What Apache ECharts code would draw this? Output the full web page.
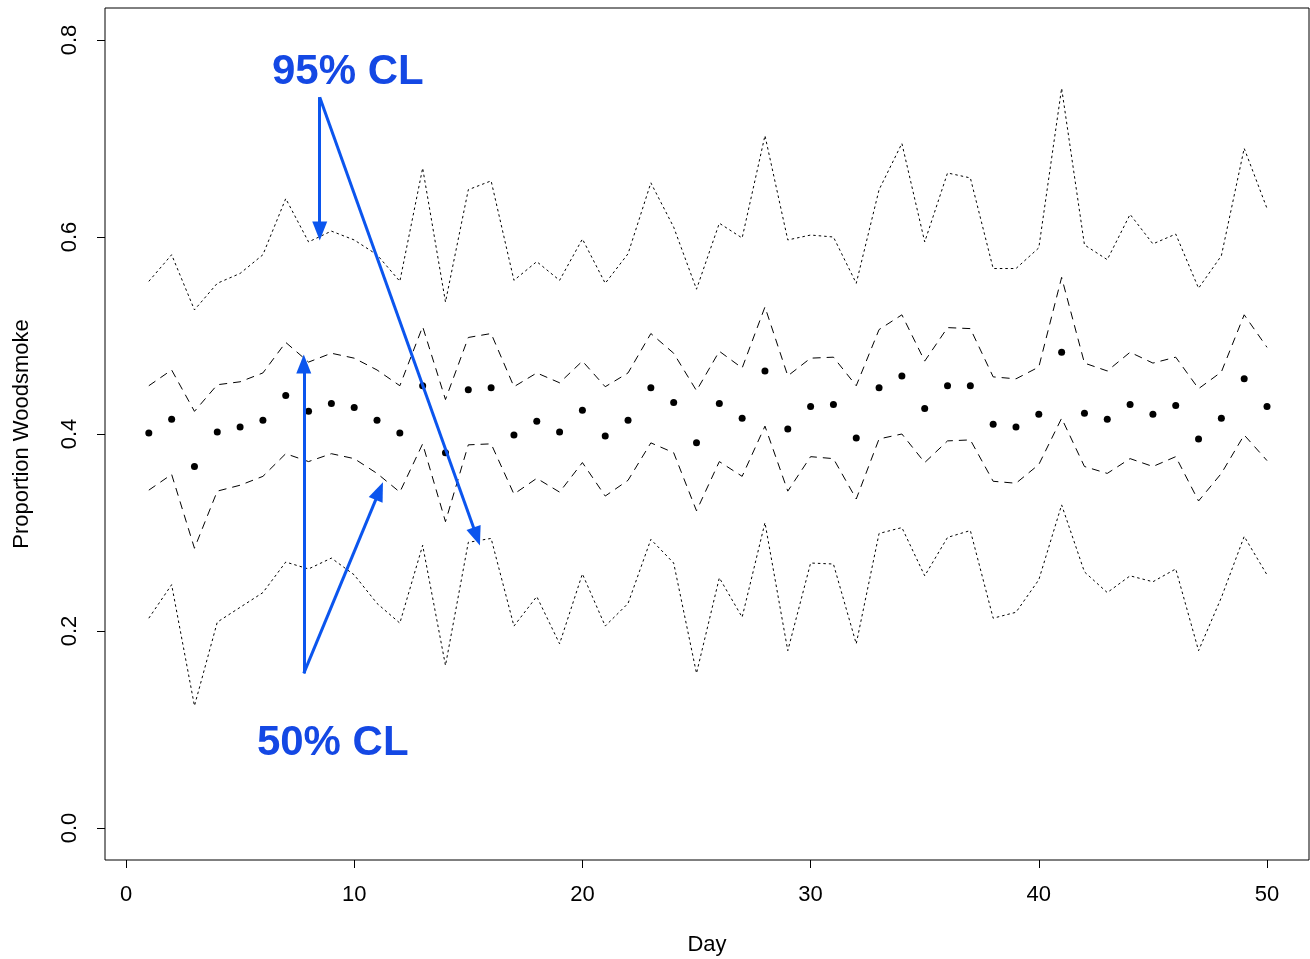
<!DOCTYPE html>
<html>
<head>
<meta charset="utf-8">
<script src="https://cdn.jsdelivr.net/npm/echarts@6/dist/echarts.min.js"></script>
<style>
html,body{margin:0;padding:0;background:#fff;}
#chart{width:1310px;height:959px;}
</style>
</head>
<body>
<div id="chart"></div>
<script>
// ---- Data ----
const days = Array.from({length: 50}, (_, i) => i + 1);
const median = [0.401,0.415,0.367,0.402,0.407,0.414,0.439,0.423,0.431,0.427,
                0.414,0.401,0.449,0.381,0.445,0.447,0.399,0.413,0.402,0.424,
                0.398,0.414,0.447,0.432,0.391,0.431,0.416,0.464,0.405,0.428,
                0.430,0.396,0.447,0.459,0.426,0.449,0.449,0.410,0.407,0.420,
                0.483,0.421,0.415,0.430,0.420,0.429,0.395,0.416,0.456,0.428];
const upper50 = [0.449,0.465,0.423,0.450,0.453,0.462,0.493,0.473,0.482,0.477,
                 0.465,0.449,0.509,0.435,0.498,0.502,0.448,0.462,0.452,0.474,
                 0.448,0.462,0.502,0.482,0.444,0.484,0.467,0.529,0.459,0.477,
                 0.478,0.449,0.506,0.521,0.474,0.508,0.507,0.458,0.456,0.468,
                 0.559,0.472,0.464,0.483,0.472,0.478,0.446,0.463,0.521,0.488];
const lower50 = [0.343,0.359,0.284,0.342,0.348,0.357,0.380,0.372,0.380,0.375,
                 0.360,0.341,0.390,0.311,0.389,0.390,0.339,0.355,0.341,0.371,
                 0.337,0.353,0.391,0.381,0.322,0.372,0.357,0.408,0.342,0.377,
                 0.375,0.334,0.395,0.400,0.371,0.393,0.394,0.352,0.350,0.369,
                 0.416,0.367,0.360,0.375,0.367,0.377,0.332,0.360,0.399,0.373];
const upper95 = [0.555,0.582,0.526,0.553,0.563,0.582,0.639,0.595,0.606,0.597,
                 0.582,0.555,0.670,0.534,0.648,0.657,0.556,0.575,0.556,0.598,
                 0.553,0.583,0.655,0.610,0.547,0.614,0.599,0.703,0.597,0.602,
                 0.600,0.553,0.648,0.695,0.595,0.665,0.660,0.568,0.568,0.589,
                 0.751,0.592,0.577,0.623,0.593,0.603,0.548,0.581,0.690,0.629];
const lower95 = [0.213,0.247,0.124,0.209,0.224,0.239,0.270,0.263,0.274,0.257,
                 0.228,0.208,0.287,0.165,0.290,0.294,0.205,0.235,0.187,0.258,
                 0.205,0.228,0.293,0.269,0.157,0.254,0.214,0.310,0.180,0.269,
                 0.268,0.187,0.299,0.305,0.256,0.295,0.302,0.213,0.219,0.252,
                 0.328,0.260,0.239,0.256,0.250,0.263,0.180,0.234,0.296,0.257];
const xTicks = [0, 10, 20, 30, 40, 50];
const yTicks = [0.0, 0.2, 0.4, 0.6, 0.8];

// annotations (data coordinates)
const label95 = {text: '95% CL', at: [9.72, 0.7675]};
const label50 = {text: '50% CL', at: [9.06, 0.0863]};
const arrows = [
  [[8.49, 0.742], [8.49, 0.606]],
  [[8.49, 0.742], [15.37, 0.296]],
  [[7.79, 0.157], [7.79, 0.471]],
  [[7.79, 0.157], [11.10, 0.342]]
];

// ---- Chart ----
const pair = arr => days.map((d, i) => [d, arr[i]]);
const FONT = 'Liberation Sans, Arial, Helvetica, sans-serif';
const BLUE = '#0b55ee';

const chart = echarts.init(document.getElementById('chart'), null, {renderer: 'canvas'});

const lineSeries = (data, dash) => ({
  type: 'line', data: pair(data), symbol: 'none', silent: true,
  lineStyle: {color: '#000', width: 1, type: dash}
});

chart.setOption({
  animation: false,
  backgroundColor: '#fff',
  grid: {left: 105, right: 1, top: 8, bottom: 99, show: true, containLabel: false,
         outerBoundsMode: 'none',
         borderColor: '#000', borderWidth: 1, backgroundColor: 'transparent'},
  xAxis: {
    type: 'value', min: -0.92, max: 51.84,
    name: 'Day', nameLocation: 'middle', nameGap: 74,
    nameTextStyle: {fontFamily: FONT, fontSize: 22, color: '#000'},
    axisLine: {show: false, onZero: false},
    splitLine: {show: false},
    axisTick: {show: true, length: 8, inside: false, customValues: xTicks,
               lineStyle: {color: '#000', width: 1}},
    axisLabel: {customValues: xTicks, margin: 24, fontFamily: FONT, fontSize: 22,
                color: '#000', formatter: v => String(v)}
  },
  yAxis: {
    type: 'value', min: -0.0325, max: 0.8325,
    name: 'Proportion Woodsmoke', nameLocation: 'middle', nameGap: 72, nameRotate: 90,
    nameTextStyle: {fontFamily: FONT, fontSize: 22, color: '#000'},
    axisLine: {show: false, onZero: false},
    splitLine: {show: false},
    axisTick: {show: true, length: 8, inside: false, customValues: yTicks,
               lineStyle: {color: '#000', width: 1}},
    axisLabel: {customValues: yTicks, margin: 24, rotate: 90, fontFamily: FONT, fontSize: 22,
                color: '#000', formatter: v => v.toFixed(1)}
  },
  series: [
    lineSeries(upper95, [2.5, 3]),
    lineSeries(lower95, [2.5, 3]),
    lineSeries(upper50, [8, 6]),
    lineSeries(lower50, [8, 6]),
    {
      type: 'scatter', data: pair(median), symbol: 'circle', symbolSize: 7,
      itemStyle: {color: '#000', opacity: 1}, silent: true
    },
    {
      type: 'line', data: [], silent: true,
      markLine: {
        silent: true, symbol: ['none', 'triangle'], symbolSize: [15, 19], precision: 4,
        label: {show: false},
        lineStyle: {color: BLUE, width: 3, type: 'solid'},
        itemStyle: {color: BLUE},
        emphasis: {disabled: true},
        data: arrows.map(a => [{coord: a[0]}, {coord: a[1]}])
      },
      markPoint: {
        silent: true, symbol: 'circle', symbolSize: 0,
        label: {show: true, position: 'inside', fontFamily: FONT, fontSize: 42,
                fontWeight: 'bold', color: '#1448e4', formatter: p => p.name},
        data: [label95, label50].map(l => ({name: l.text, coord: l.at}))
      }
    }
  ]
});
</script>
</body>
</html>
